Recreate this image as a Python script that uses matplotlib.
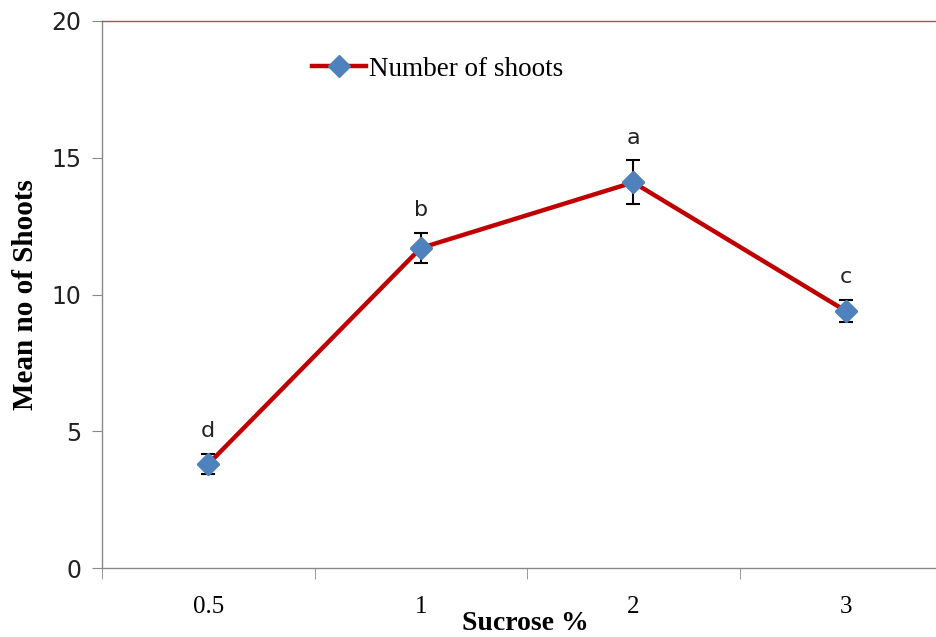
import matplotlib
matplotlib.use("Agg")
import matplotlib.pyplot as plt
import numpy as np

categories = ["0.5", "1", "2", "3"]
shoots = [3.8, 11.7, 14.1, 9.4]
errors = [0.38, 0.55, 0.8, 0.4]
letters = ["d", "b", "a", "c"]
yticks = [0, 5, 10, 15, 20]

fig = plt.figure(figsize=(9.37, 6.37), dpi=100)
ax = fig.add_axes([102/937, 69/637, 850/937, 547/637])

x = np.arange(len(categories))
ax.plot(x, shoots, color="#C00000", lw=3.2, zorder=2, label="Number of shoots",
        marker="D", markersize=11, markerfacecolor="#4F81BD", markeredgecolor="#4F81BD")
ax.errorbar(x, shoots, yerr=errors, fmt="none", ecolor="black", elinewidth=1.5,
            capsize=5, capthick=1.5, zorder=1)
ax.plot(x, shoots, ls="none", marker="D", markersize=11, markerfacecolor="#4F81BD",
        markeredgecolor="#4F81BD", zorder=3)

for xi, v, e, l in zip(x, shoots, errors, letters):
    ax.annotate(l, (xi, v + e), xytext=(0, 9), textcoords="offset points",
                ha="center", va="bottom", fontsize=16, family="DejaVu Sans", color="#222222")

ax.set_xlim(-0.5, 3.5)
ax.set_ylim(0, 20)
ax.set_xticks(x)
ax.set_xticklabels(categories, family="Liberation Serif", fontsize=18)
ax.tick_params(axis="x", which="major", length=0, pad=20)
ax.set_xticks([-0.5, 0.5, 1.5, 2.5], minor=True)
ax.tick_params(axis="x", which="minor", length=8, color="#888888", direction="out")
ax.set_yticks(yticks)
ax.set_yticklabels([str(t) for t in yticks], family="DejaVu Sans", fontsize=17)
ax.tick_params(axis="y", length=7, color="#888888", direction="out", pad=8, labelcolor="#222222")

for s in ["left", "bottom"]:
    ax.spines[s].set_color("#888888")
    ax.spines[s].set_linewidth(1)
ax.spines["right"].set_visible(False)
ax.spines["top"].set_color("#B05050")
ax.spines["top"].set_linewidth(1)

ax.set_xlabel("Sucrose %", family="Liberation Serif", fontsize=20, fontweight="bold")
ax.set_ylabel("Mean no of Shoots", family="Liberation Serif", fontsize=21, fontweight="bold")
ax.xaxis.set_label_coords(423/850, -(623 - 568)/547)
ax.xaxis.label.set_va("center")
ax.yaxis.set_label_coords(-(102 - 26)/850, (568 - 295)/547)
ax.yaxis.label.set_va("center")

handles, labels_ = ax.get_legend_handles_labels()
leg = ax.legend(handles[:1], labels_[:1], loc="center left",
                bbox_to_anchor=(199/850, 1 - 48/547), borderaxespad=0,
                frameon=False, handlelength=2.0, handletextpad=0.1,
                prop={"family": "Liberation Serif", "size": 19.5})

fig.savefig("out.png", dpi=100)
